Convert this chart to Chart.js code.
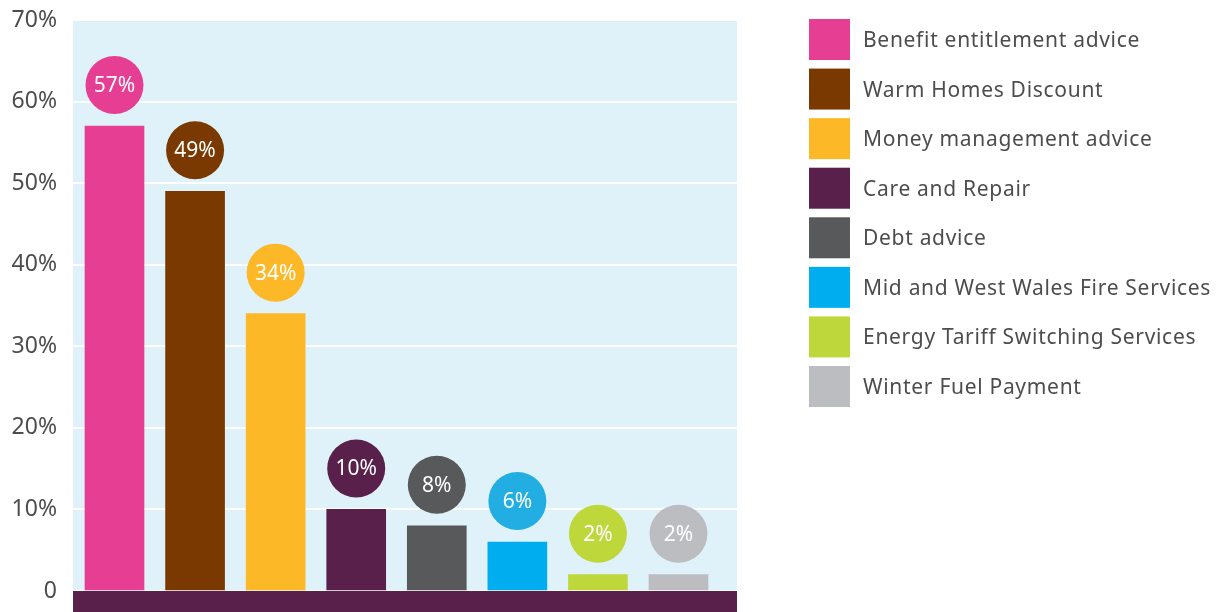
<!DOCTYPE html>
<html>
<head>
<meta charset="utf-8">
<script src="https://cdn.jsdelivr.net/npm/chart.js@4.4.1/dist/chart.umd.min.js"></script>
<style>
  html, body { margin: 0; padding: 0; background: #ffffff; }
  #wrap { width: 1218px; height: 612px; position: relative; }
</style>
</head>
<body>
<div id="wrap"><canvas id="c" width="1218" height="612"></canvas></div>
<script>
const categories = [
  "Benefit entitlement advice",
  "Warm Homes Discount",
  "Money management advice",
  "Care and Repair",
  "Debt advice",
  "Mid and West Wales Fire Services",
  "Energy Tariff Switching Services",
  "Winter Fuel Payment"
];
const values = [57, 49, 34, 10, 8, 6, 2, 2];
const barColors = ["#E63E93", "#7A3900", "#FDB827", "#58204A", "#58595B", "#00AEEF", "#BED73B", "#BCBDC0"];
const circleColors = ["#E63E93", "#7A3900", "#FDB827", "#58204A", "#58595B", "#22AEE3", "#BED73B", "#BCBDC0"];
const yTicks = [0, 10, 20, 30, 40, 50, 60, 70];

const TEXT = "#4D4D4F";
const FONT = "'Noto Sans', sans-serif";

const decor = {
  id: "decor",
  beforeDraw(chart) {
    const { ctx, chartArea: a } = chart;
    ctx.save();
    ctx.fillStyle = "#DFF2FA";
    ctx.fillRect(a.left, a.top, a.right - a.left, a.bottom - a.top);
    ctx.restore();
  },
  afterDraw(chart) {
    const { ctx, chartArea: a } = chart;
    ctx.save();
    // baseline band
    ctx.fillStyle = "#58204A";
    ctx.fillRect(a.left, a.bottom, a.right - a.left, chart.height - a.bottom);
    // value circles
    const meta = chart.getDatasetMeta(0);
    meta.data.forEach((bar, i) => {
      const cx = bar.x, cy = bar.y - 41;
      ctx.beginPath();
      ctx.arc(cx, cy, 29, 0, Math.PI * 2);
      ctx.fillStyle = circleColors[i];
      ctx.fill();
      ctx.fillStyle = "#ffffff";
      ctx.font = "21px " + FONT;
      ctx.textAlign = "center";
      ctx.textBaseline = "middle";
      ctx.fillText(values[i] + "%", cx, cy + 1);
    });
    // legend
    if ("letterSpacing" in ctx) ctx.letterSpacing = "0.7px";
    categories.forEach((c, i) => {
      const y = 19 + i * 49.57;
      ctx.fillStyle = barColors[i];
      ctx.fillRect(809, y, 41, 41);
      ctx.fillStyle = TEXT;
      ctx.font = "21px " + FONT;
      ctx.textAlign = "left";
      ctx.textBaseline = "middle";
      ctx.fillText(c, 863, y + 22);
    });
    ctx.restore();
  }
};

new Chart(document.getElementById("c"), {
  type: "bar",
  data: {
    datasets: [{
      data: categories.map((c, i) => ({ x: i, y: values[i] })),
      backgroundColor: barColors,
      barThickness: 59,
      borderWidth: 0
    }]
  },
  options: {
    responsive: false,
    animation: false,
    layout: { padding: { top: 20, right: 481, bottom: 21, left: 0 } },
    plugins: { legend: { display: false }, tooltip: { enabled: false } },
    scales: {
      x: {
        type: "linear",
        display: false,
        offset: false,
        min: -0.515,
        max: 7.726
      },
      y: {
        min: 0,
        max: 70,
        afterFit(scale) {
          scale.width = 73;
          scale.paddingTop = 0;
          scale.paddingBottom = 0;
        },
        afterBuildTicks(scale) { scale.ticks = yTicks.map(v => ({ value: v })); },
        border: { display: false },
        grid: { color: "#ffffff", lineWidth: 2, drawTicks: false },
        ticks: {
          padding: 16,
          color: TEXT,
          font: { family: "'Noto Sans', sans-serif", size: 23 },
          callback: v => v === 0 ? "0" : v + "%"
        }
      }
    }
  },
  plugins: [decor]
});
</script>
</body>
</html>
